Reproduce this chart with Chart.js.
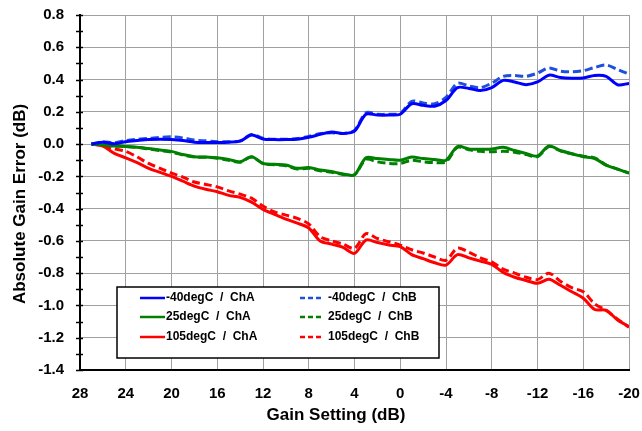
<!DOCTYPE html>
<html>
<head>
<meta charset="utf-8">
<script src="https://cdn.jsdelivr.net/npm/chart.js@4.4.0/dist/chart.umd.min.js"></script>
<style>
  html, body { margin: 0; padding: 0; background: #fff; }
  #wrap { width: 642px; height: 431px; }
</style>
</head>
<body>
<div id="wrap"><canvas id="gainChart" width="642" height="431"></canvas></div>
<script>
// Gain steps (dB), shared by every trace
const gainSteps = [27, 26, 25, 24, 23, 22, 21, 20, 19, 18, 17, 16, 15, 14, 13, 12, 11, 10, 9, 8, 7, 6, 5, 4,
    3, 2, 1, 0, -1, -2, -3, -4, -5, -6, -7, -8, -9, -10, -11, -12, -13, -14, -15, -16, -17, -18, -19, -20];

// Absolute gain error (dB)
const m40ChA = [0, 0.012, 0.002, 0.015, 0.022, 0.028, 0.03, 0.028, 0.022, 0.012, 0.01, 0.01, 0.012, 0.018, 0.056, 0.032,
    0.028, 0.028, 0.03, 0.042, 0.06, 0.075, 0.066, 0.08, 0.185, 0.18, 0.18, 0.185, 0.25, 0.24, 0.235, 0.27,
    0.35, 0.345, 0.332, 0.35, 0.395, 0.385, 0.368, 0.385, 0.427, 0.412, 0.408, 0.41, 0.425, 0.42, 0.368, 0.376];
const m40ChB = [0, 0.015, 0.008, 0.022, 0.03, 0.035, 0.042, 0.045, 0.038, 0.025, 0.02, 0.015, 0.015, 0.02, 0.06, 0.036,
    0.03, 0.03, 0.034, 0.048, 0.065, 0.07, 0.066, 0.085, 0.195, 0.185, 0.185, 0.19, 0.265, 0.255, 0.25, 0.29,
    0.376, 0.36, 0.35, 0.378, 0.42, 0.425, 0.42, 0.44, 0.472, 0.452, 0.448, 0.455, 0.475, 0.49, 0.462, 0.434];
const p25ChA = [0, -0.005, -0.012, -0.015, -0.02, -0.028, -0.037, -0.045, -0.065, -0.078, -0.08, -0.085, -0.095, -0.11, -0.078, -0.12,
    -0.125, -0.13, -0.15, -0.145, -0.16, -0.17, -0.185, -0.19, -0.085, -0.09, -0.095, -0.1, -0.08, -0.09, -0.095, -0.1,
    -0.015, -0.03, -0.032, -0.03, -0.02, -0.04, -0.058, -0.074, -0.012, -0.04, -0.06, -0.078, -0.09, -0.13, -0.155, -0.18];
const p25ChB = [0, -0.002, -0.01, -0.015, -0.02, -0.03, -0.04, -0.05, -0.068, -0.08, -0.082, -0.088, -0.1, -0.112, -0.08, -0.12,
    -0.128, -0.135, -0.155, -0.15, -0.165, -0.175, -0.188, -0.19, -0.095, -0.11, -0.12, -0.12, -0.1, -0.11, -0.115, -0.11,
    -0.02, -0.035, -0.045, -0.048, -0.045, -0.05, -0.065, -0.078, -0.015, -0.042, -0.06, -0.075, -0.085, -0.13, -0.155, -0.18];
const p105ChA = [0, -0.012, -0.058, -0.085, -0.115, -0.15, -0.175, -0.2, -0.23, -0.26, -0.28, -0.295, -0.318, -0.33, -0.36, -0.405,
    -0.435, -0.465, -0.49, -0.52, -0.6, -0.62, -0.64, -0.677, -0.595, -0.61, -0.625, -0.636, -0.685, -0.71, -0.735, -0.75,
    -0.685, -0.705, -0.725, -0.745, -0.795, -0.825, -0.845, -0.863, -0.838, -0.875, -0.915, -0.955, -1.025, -1.03, -1.09, -1.13];
const p105ChB = [0, -0.01, -0.03, -0.045, -0.08, -0.12, -0.15, -0.18, -0.205, -0.235, -0.25, -0.265, -0.29, -0.31, -0.335, -0.384,
    -0.42, -0.44, -0.46, -0.495, -0.574, -0.6, -0.62, -0.646, -0.555, -0.585, -0.605, -0.626, -0.655, -0.675, -0.7, -0.72,
    -0.645, -0.67, -0.705, -0.73, -0.775, -0.8, -0.825, -0.84, -0.8, -0.85, -0.89, -0.915, -0.99, -1.03, -1.085, -1.135];

const seriesLabels = ["-40degC  /  ChA", "-40degC  /  ChB", "25degC  /  ChA", "25degC  /  ChB", "105degC  /  ChA", "105degC  /  ChB"];
const seriesValues = [m40ChA, m40ChB, p25ChA, p25ChB, p105ChA, p105ChB];
const seriesColors = ['#0000ff', '#1e50dc', '#008000', '#008000', '#ff0000', '#ff0000'];

const FONT = "'Liberation Sans', Arial, sans-serif";

function toPoints(values) {
    return values.map((v, i) => ({ x: gainSteps[i], y: v }));
}

// y-axis minor ticks every 0.1
const minorTicks = {
    id: 'minorTicks',
    afterDraw(chart) {
        const ys = chart.scales.y;
        const x0 = chart.chartArea.left;
        const ctx = chart.ctx;
        ctx.save();
        ctx.strokeStyle = '#000';
        ctx.lineWidth = 1.5;
        for (let k = 0; k <= 22; k++) {
            const py = Math.round(ys.getPixelForValue(-1.4 + k * 0.1)) + 0.5;
            ctx.beginPath();
            ctx.moveTo(x0 - 4, py);
            ctx.lineTo(x0 + 3, py);
            ctx.stroke();
        }
        ctx.restore();
    }
};

// axis titles (offset like the original)
const axisTitles = {
    id: 'axisTitles',
    afterDraw(chart) {
        const ctx = chart.ctx;
        ctx.save();
        ctx.fillStyle = '#000';
        ctx.font = "bold 17px " + FONT;
        ctx.textAlign = 'center';
        ctx.textBaseline = 'middle';
        ctx.fillText("Gain Setting (dB)", 336, 415);
        ctx.translate(20, 204);
        ctx.rotate(-Math.PI / 2);
        ctx.fillText("Absolute Gain Error (dB)", 0, 0);
        ctx.restore();
    }
};

// boxed legend inside the plot
const boxLegend = {
    id: 'boxLegend',
    afterDraw(chart) {
        const ctx = chart.ctx;
        const box = { x: 117, y: 287, w: 322, h: 71 };
        ctx.save();
        ctx.fillStyle = '#fff';
        ctx.fillRect(box.x, box.y, box.w, box.h);
        ctx.strokeStyle = '#000';
        ctx.lineWidth = 1.5;
        ctx.strokeRect(box.x, box.y, box.w, box.h);
        ctx.font = "bold 12px " + FONT;
        ctx.textBaseline = 'middle';
        ctx.fillStyle = '#000';
        const rowY = [298, 317, 337];
        const colX = [140, 300];
        chart.data.datasets.forEach((ds, i) => {
            const col = i % 2, row = Math.floor(i / 2);
            const lx = colX[col], ly = rowY[row];
            ctx.strokeStyle = ds.borderColor;
            ctx.lineWidth = 2.5;
            ctx.setLineDash(col ? [5, 3] : []);
            ctx.beginPath();
            ctx.moveTo(lx, ly);
            ctx.lineTo(lx + (col ? 23 : 25), ly);
            ctx.stroke();
            ctx.setLineDash([]);
            ctx.fillText(ds.label, lx + (col ? 28 : 26), ly);
        });
        ctx.restore();
    }
};

const datasets = seriesValues.map((vals, i) => ({
    label: seriesLabels[i],
    data: toPoints(vals),
    borderColor: seriesColors[i],
    borderWidth: 3,
    borderDash: i % 2 ? [8, 4] : [],
    pointRadius: 0,
    tension: 0.3,
    fill: false
}));

const ctx = document.getElementById('gainChart').getContext('2d');
const gainChart = new Chart(ctx, {
    type: 'line',
    data: { datasets: datasets },
    options: {
        responsive: false,
        animation: false,
        layout: { padding: { top: 15, right: 13, left: 0, bottom: 0 } },
        plugins: {
            legend: { display: false },
            tooltip: { enabled: false }
        },
        scales: {
            x: {
                type: 'linear',
                reverse: true,
                min: -20,
                max: 28,
                afterFit: s => { s.height = 61; s.paddingLeft = 0; s.paddingRight = 0; },
                ticks: {
                    stepSize: 4,
                    padding: 15,
                    maxRotation: 0,
                    color: '#000',
                    font: { family: FONT, size: 15, weight: 'bold' }
                },
                grid: { color: '#a0a0a0', lineWidth: 1, drawTicks: false },
                border: { color: '#000', width: 2 }
            },
            y: {
                min: -1.4,
                max: 0.8,
                afterFit: s => { s.width = 80; s.paddingTop = 0; s.paddingBottom = 0; },
                ticks: {
                    stepSize: 0.2,
                    padding: 16,
                    color: '#000',
                    font: { family: FONT, size: 15, weight: 'bold' },
                    callback: v => (Math.abs(v) < 1e-9 ? 0 : v).toFixed(1)
                },
                grid: { color: '#a0a0a0', lineWidth: 1, drawTicks: false },
                border: { color: '#000', width: 2 }
            }
        }
    },
    plugins: [minorTicks, axisTitles, boxLegend]
});
</script>
</body>
</html>
